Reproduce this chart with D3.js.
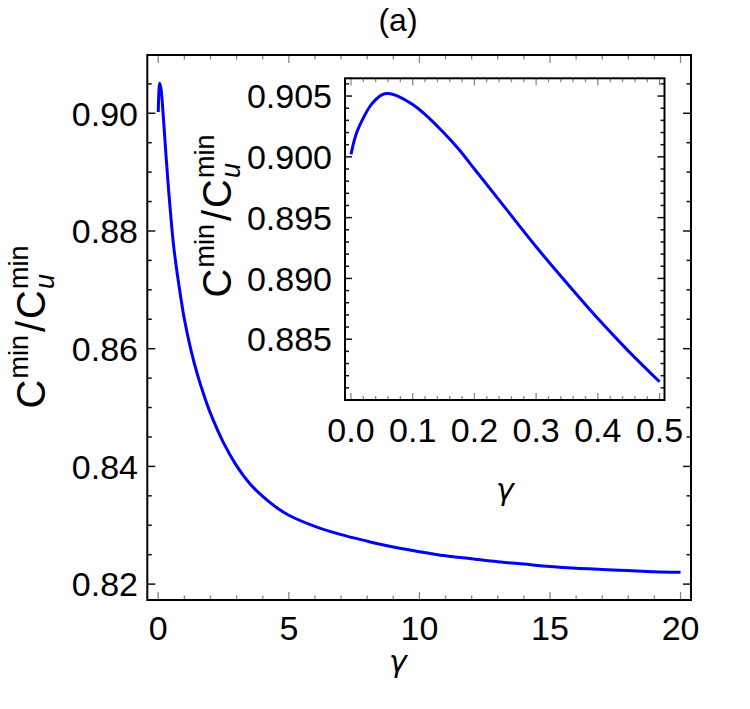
<!DOCTYPE html>
<html><head><meta charset="utf-8">
<script src="https://cdn.jsdelivr.net/npm/d3@7"></script>
<style>body{margin:0;background:#fff}svg{display:block}</style>
</head><body>
<svg id="chart" width="750" height="709"></svg>
<script>
// ---- data ----
const mainGamma = [0, 0.02, 0.05, 0.1, 0.2, 0.3, 0.4, 0.5, 0.6, 0.8, 1.0, 1.25, 1.5, 1.75, 2.0, 2.5, 3.0, 3.5, 4.0, 4.5, 5.0, 6.0, 7.0, 8.0, 9.0, 10, 11, 12, 13, 14, 15, 16, 17, 18, 19, 20];
const mainRatio = [0.9002, 0.9032, 0.9051, 0.9043, 0.8990, 0.8926, 0.8867, 0.8815, 0.8770, 0.8705, 0.8650, 0.8598, 0.8556, 0.8521, 0.8490, 0.8440, 0.8401, 0.8371, 0.8349, 0.8331, 0.8317, 0.8298, 0.8284, 0.8273, 0.8263, 0.8255, 0.8248, 0.8243, 0.8238, 0.8234, 0.8230, 0.8227, 0.8225, 0.8223, 0.8221, 0.8220];
const insetGamma = [0, 0.005, 0.01, 0.02, 0.03, 0.04, 0.05, 0.06, 0.08, 0.10, 0.12, 0.15, 0.175, 0.20, 0.25, 0.30, 0.35, 0.40, 0.45, 0.50];
const insetRatio = [0.9002, 0.9013, 0.9021, 0.9032, 0.9041, 0.9047, 0.9051, 0.9052, 0.9049, 0.9043, 0.9035, 0.9020, 0.9006, 0.8990, 0.8958, 0.8926, 0.8896, 0.8867, 0.8840, 0.8815];
const mainXTicks = [0, 5, 10, 15, 20];
const mainYTicks = [0.82, 0.84, 0.86, 0.88, 0.90];
const insetXTicks = [0, 0.1, 0.2, 0.3, 0.4, 0.5];
const insetYTicks = [0.885, 0.890, 0.895, 0.900, 0.905];
const titleText = "(a)";

const svg = d3.select("#chart");
const FONT = "'Liberation Sans', Arial, sans-serif";
const FS = 34;

function panel(cfg) {
  const g = svg.append("g");
  const x = d3.scaleLinear().domain(cfg.xDomain).range([cfg.left, cfg.right]);
  const y = d3.scaleLinear().domain(cfg.yDomain).range([cfg.bottom, cfg.top]);
  g.append("rect").attr("x", cfg.left).attr("y", cfg.top)
    .attr("width", cfg.right - cfg.left).attr("height", cfg.bottom - cfg.top)
    .attr("fill", "#fff");
  const steps = (dom, step) => d3.range(Math.ceil(dom[0] / step - 1e-9), Math.floor(dom[1] / step + 1e-9) + 1)
    .map(i => +(i * step).toFixed(6)).filter(v => v >= dom[0] && v <= dom[1]);
  const xMinor = steps(cfg.xDomain, cfg.xMinorStep);
  const yMinor = steps(cfg.yDomain, cfg.yMinorStep);
  const isMajor = (v, arr) => arr.some(t => Math.abs(t - v) < 1e-7);
  const tg = g.append("g");
  xMinor.forEach(v => {
    const L = isMajor(v, cfg.xTicks) ? cfg.majorLen : cfg.minorLen;
    tg.append("line").attr("x1", x(v)).attr("x2", x(v)).attr("y1", cfg.bottom).attr("y2", cfg.bottom - L).attr("stroke", "#888").attr("stroke-width", 1.3);
    tg.append("line").attr("x1", x(v)).attr("x2", x(v)).attr("y1", cfg.top).attr("y2", cfg.top + L).attr("stroke", "#888").attr("stroke-width", 1.3);
  });
  yMinor.forEach(v => {
    const L = isMajor(v, cfg.yTicks) ? cfg.majorLen : cfg.minorLen;
    tg.append("line").attr("y1", y(v)).attr("y2", y(v)).attr("x1", cfg.left).attr("x2", cfg.left + L).attr("stroke", "#111").attr("stroke-width", 1.5);
    tg.append("line").attr("y1", y(v)).attr("y2", y(v)).attr("x1", cfg.right).attr("x2", cfg.right - L).attr("stroke", "#111").attr("stroke-width", 1.5);
  });
  // curve
  const line = d3.line().x(d => x(d[0])).y(d => y(d[1])).curve(d3.curveCatmullRom.alpha(0.5));
  g.append("path").datum(cfg.gamma.map((v, i) => [v, cfg.ratio[i]]))
    .attr("d", line).attr("fill", "none").attr("stroke", "#0000ff").attr("stroke-width", 3);
  // frame
  g.append("rect").attr("x", cfg.left).attr("y", cfg.top)
    .attr("width", cfg.right - cfg.left).attr("height", cfg.bottom - cfg.top)
    .attr("fill", "none").attr("stroke", "#000").attr("stroke-width", 2);
  // tick labels
  g.selectAll(null).data(cfg.xTicks).enter().append("text")
    .attr("x", d => x(d)).attr("y", cfg.xLabelBaseline)
    .attr("text-anchor", "middle").attr("font-family", FONT).attr("font-size", FS)
    .text(cfg.xFormat);
  g.selectAll(null).data(cfg.yTicks).enter().append("text")
    .attr("x", cfg.yLabelRight).attr("y", d => y(d)).attr("dy", "0.36em")
    .attr("text-anchor", "end").attr("font-family", FONT).attr("font-size", FS)
    .text(cfg.yFormat);
  // axis titles
  g.append("text").attr("x", cfg.gammaPos[0]).attr("y", cfg.gammaPos[1])
    .attr("text-anchor", "middle").attr("font-family", "'DejaVu Sans', sans-serif")
    .attr("font-style", "italic").attr("font-size", 30).text("γ");
  ratioLabel(g, cfg.ratioPos[0], cfg.ratioPos[1]);
  return { x, y };
}

function ratioLabel(parent, cx, cy) {
  const outer = parent.append("g").attr("transform", `translate(${cx},${cy}) rotate(-90)`);
  const g = outer.append("g");
  const big = 40, small = 27;
  let cur = 0;
  const add = (txt, size, dy, italic, advance = true) => {
    const t = g.append("text").attr("x", cur).attr("y", dy)
      .attr("font-family", FONT).attr("font-size", size)
      .attr("font-style", italic ? "italic" : "normal").text(txt);
    const w = t.node().getComputedTextLength();
    if (advance) cur += w;
    return w;
  };
  add("C", big, 0, false);
  cur += 1;
  add("min", small, -17, false);
  cur += 3;
  add("/", big, 0, false);
  cur += 2;
  add("C", big, 0, false);
  cur += 1;
  const start = cur;
  const w1 = add("u", small, 9, true, false);
  const w2 = add("min", small, -17, false, false);
  cur = start + Math.max(w1, w2);
  g.attr("transform", `translate(${-cur / 2},0)`);
}

panel({
  xDomain: [-0.42, 20.4], yDomain: [0.8173, 0.9099],
  left: 147.3, right: 691, top: 55, bottom: 600,
  xTicks: mainXTicks, yTicks: mainYTicks, xMinorStep: 1, yMinorStep: 0.005,
  majorLen: 8, minorLen: 4.5,
  gamma: mainGamma, ratio: mainRatio,
  xFormat: d => d3.format("d")(d), yFormat: d => d3.format(".2f")(d),
  xLabelBaseline: 640, yLabelRight: 138,
  gammaPos: [398, 672], ratioPos: [45, 327]
});

panel({
  xDomain: [-0.0097, 0.508], yDomain: [0.8800, 0.90646],
  left: 345, right: 664.5, top: 78.3, bottom: 400,
  xTicks: insetXTicks, yTicks: insetYTicks, xMinorStep: 0.02, yMinorStep: 0.001,
  majorLen: 7, minorLen: 4,
  gamma: insetGamma, ratio: insetRatio,
  xFormat: d => d3.format(".1f")(d), yFormat: d => d3.format(".3f")(d),
  xLabelBaseline: 442, yLabelRight: 332,
  gammaPos: [505, 500], ratioPos: [231, 216]
});

svg.append("text").attr("x", 398).attr("y", 31).attr("text-anchor", "middle")
  .attr("font-family", FONT).attr("font-size", 32).text(titleText);
</script>
</body></html>
